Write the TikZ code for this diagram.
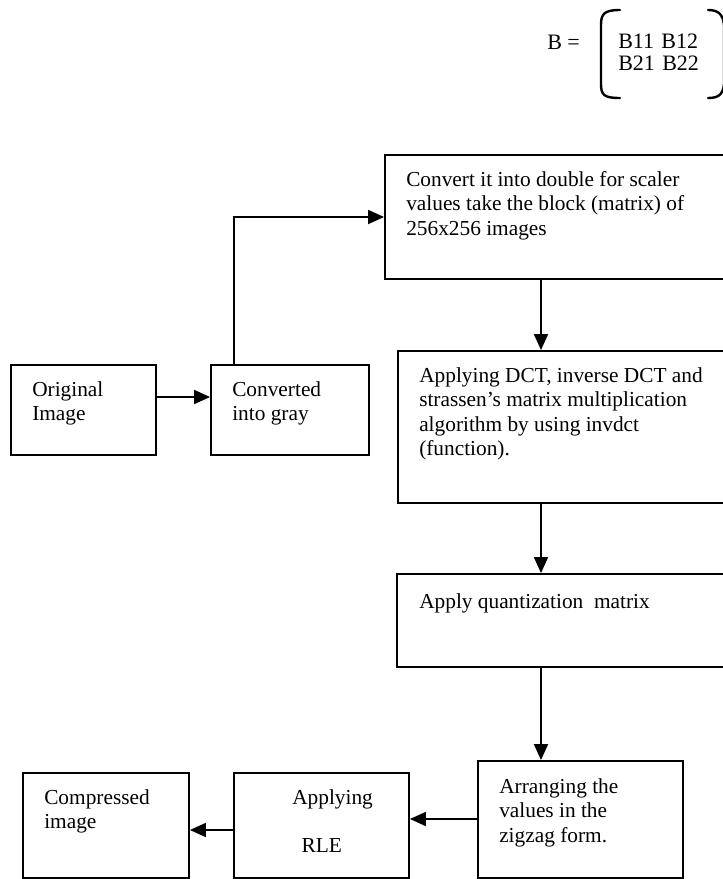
\documentclass[tikz,border=0pt]{standalone}
\usepackage{fontspec}
\setmainfont{Liberation Serif}
\usetikzlibrary{arrows.meta,fit}
\begin{document}
\begin{tikzpicture}[x=0.75pt,y=-0.75pt,
  box/.style={draw=black,line width=1.4pt,inner sep=0pt,fill=none},
  txt/.style={inner sep=0pt,anchor=north west,align=left,font=\fontsize{16}{18.4}\selectfont},
  mtx/.style={inner sep=0pt,anchor=base west,font=\fontsize{16.5}{15}\selectfont},
  arr/.style={line width=1.4pt,-{Triangle[length=12pt,width=10.5pt]}},
  brk/.style={line width=1.8pt,line cap=round}]
\useasboundingbox (0,0) rectangle (723,879);
\clip (0,0) rectangle (723,879);
% matrix
\node[mtx] (beq) at (547,49) {B =};
\node[mtx] (bm1) at (618,48) {B11\hspace{5.5pt}B12};
\node[mtx] (bm2) at (618,70) {B21\hspace{5.5pt}B22};
\draw[brk] (620,10) .. controls (604,10) and (601,14) .. (601,25) -- (601,84) .. controls (601,95) and (604,98) .. (620,98);
\draw[brk] (708,10) .. controls (718,10) and (723,14) .. (724,25) -- (724,84) .. controls (723,95) and (718,98) .. (708,98);
% boxes
\coordinate (o1) at (11,365); \coordinate (o2) at (156,455);
\node[box,fit=(o1)(o2)] (orig) {};
\coordinate (c1) at (211,365); \coordinate (c2) at (369,455);
\node[box,fit=(c1)(c2)] (conv) {};
\coordinate (d1) at (385,155); \coordinate (d2) at (745,279);
\node[box,fit=(d1)(d2)] (dbl) {};
\coordinate (e1) at (398,351); \coordinate (e2) at (745,503);
\node[box,fit=(e1)(e2)] (dct) {};
\coordinate (f1) at (397,574); \coordinate (f2) at (745,667);
\node[box,fit=(f1)(f2)] (quant) {};
\coordinate (g1) at (478,761); \coordinate (g2) at (683,878);
\node[box,fit=(g1)(g2)] (zig) {};
\coordinate (h1) at (234,773); \coordinate (h2) at (409,878);
\node[box,fit=(h1)(h2)] (rle) {};
\coordinate (k1) at (23,773); \coordinate (k2) at (189,878);
\node[box,fit=(k1)(k2)] (comp) {};
% texts
\node[txt] (torig) at (32,381) {Original\\Image};
\node[txt] (tconv) at (232,381) {Converted\\into gray};
\node[txt] (tdbl) at (406,171) {Convert it into double for scaler\\values take the block (matrix) of\\256x256 images};
\node[txt] (tdct) at (419,367) {Applying DCT, inverse DCT and\\strassen's matrix multiplication\\algorithm by using invdct\\(function).};
\node[txt] (tquant) at (419,593) {Apply quantization~ matrix};
\node[txt] (tzig) at (499,778) {Arranging the\\values in the\\zigzag form.};
\node[txt] (trle) at (292,789) {Applying\\[18pt]\hspace*{7pt}RLE};
\node[txt] (tcomp) at (44,789) {Compressed\\image};
% connectors
\coordinate (y1) at (0,397);
\coordinate (p1) at (234,217);
\coordinate (xm) at (541,0);
\coordinate (y2) at (0,819);
\coordinate (y3) at (0,830);
\draw[arr] (orig.east |- y1) -- (conv.west |- y1);
\draw[arr] (conv.north -| p1) |- (dbl.west |- p1);
\draw[arr] (dbl.south -| xm) -- (dct.north -| xm);
\draw[arr] (dct.south -| xm) -- (quant.north -| xm);
\draw[arr] (quant.south -| xm) -- (zig.north -| xm);
\draw[arr] (zig.west |- y2) -- (rle.east |- y2);
\draw[arr] (rle.west |- y3) -- (comp.east |- y3);
\end{tikzpicture}
\end{document}
